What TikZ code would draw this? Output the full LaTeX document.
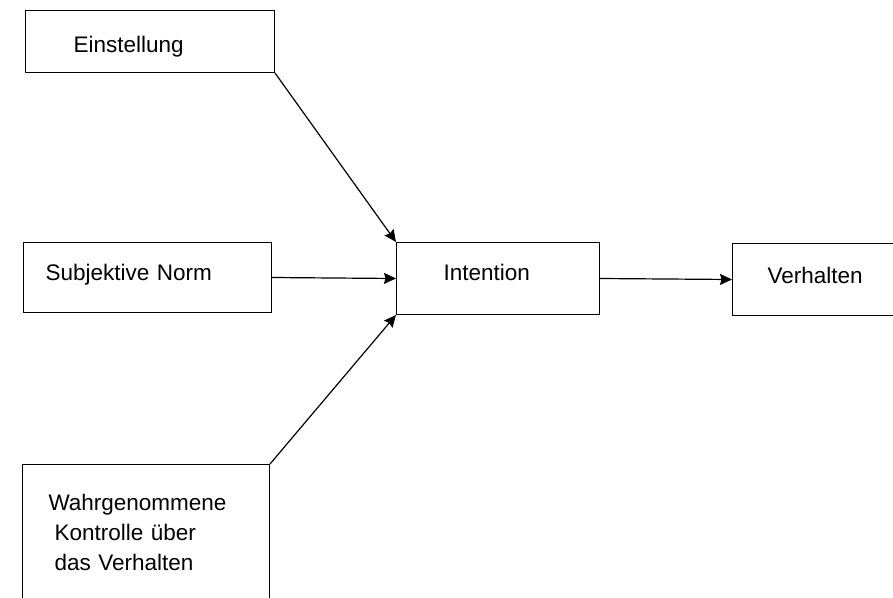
\documentclass[tikz,border=0pt]{standalone}
\usepackage{fontspec}
\setmainfont{Liberation Sans}
\usetikzlibrary{positioning,arrows.meta}

\begin{document}
\begin{tikzpicture}[x=1pt, y=-1pt,
        every node/.style={draw, rectangle, anchor=north west, align=left,
          font=\fontsize{22.5}{30}\selectfont, line width=1pt},
        arrow/.style={-{Stealth[length=12pt,width=11pt,inset=1.5pt]}, line width=1.2pt}]

        \clip (0,0) rectangle (893,597);

        %%% left column: the three determinants
        % attitude
        \node (einst) at (25,10) [text width=153pt, inner xsep=48pt, minimum height=62pt,
          text height=26pt, text depth=5pt] {Einstellung};

        % subjective norm
        \node (norm) at (23,242) [text width=204pt, inner xsep=22pt, minimum height=70pt,
          text height=16pt, text depth=11pt] {Subjektive Norm};

        % perceived behavioural control (runs off the bottom edge)
        \node (kontr) at (22,464) [text width=195pt, inner xsep=26pt, minimum height=136pt]
          {Wahrgenommene\\\hspace*{6pt}Kontrolle über\\\hspace*{6pt}das Verhalten};

        %%% middle and right
        % intention
        \node (intent) at (396,242) [text width=109pt, inner xsep=47pt, minimum height=72pt,
          text height=16pt, text depth=12pt] {Intention};

        % behaviour (runs off the right edge)
        \node (verh) at (732,243) [text width=110pt, inner xsep=35pt, minimum height=72pt,
          text height=16pt, text depth=8pt] {Verhalten};

        %%% arrows
        \draw[arrow] (einst.south east) -- (intent.north west);
        \draw[arrow] (norm.east) -- (intent.west);
        \draw[arrow] (kontr.north east) -- (intent.south west);
        \draw[arrow] (intent.east) -- (verh.west);
      \end{tikzpicture}
\end{document}
